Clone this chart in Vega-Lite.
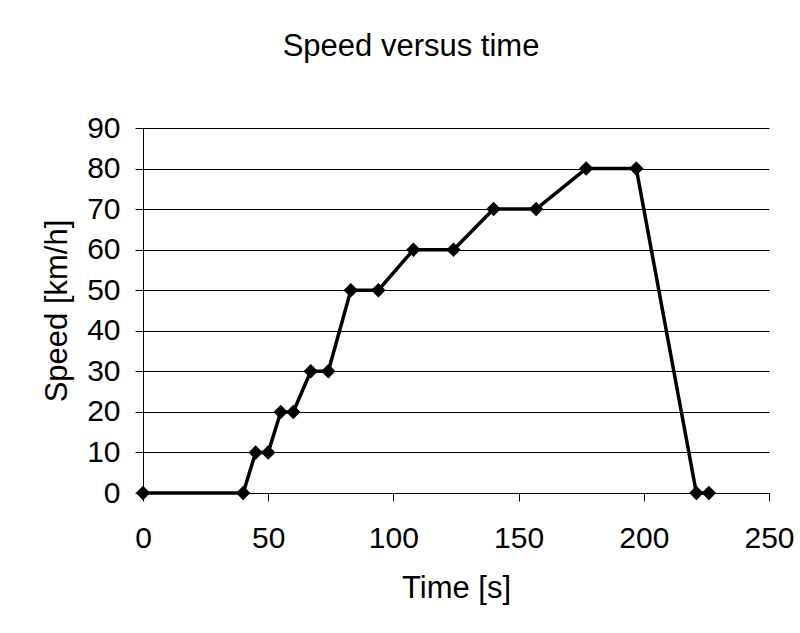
{
  "$schema": "https://vega.github.io/schema/vega-lite/v6.json",
  "autosize": "none",
  "width": 626,
  "height": 365,
  "padding": {"left": 143, "top": 128, "right": 31, "bottom": 140},
  "background": "white",
  "title": {
    "text": "Speed versus time",
    "font": "Liberation Sans",
    "fontSize": 31,
    "fontWeight": "normal",
    "color": "black",
    "anchor": "middle",
    "dx": -45,
    "offset": 50
  },
  "config": {
    "view": {"stroke": null},
    "axis": {
      "labelFont": "Liberation Sans",
      "titleFont": "Liberation Sans",
      "labelFontSize": 30,
      "titleFontSize": 31,
      "titleFontWeight": "normal",
      "labelColor": "black",
      "titleColor": "black",
      "domainColor": "black",
      "tickColor": "black",
      "gridColor": "black",
      "gridOpacity": 1,
      "tickSize": 8,
      "labelFlush": false,
      "labelOverlap": false
    }
  },
  "data": {
    "values": [
      {"time": 0, "speed": 0},
      {"time": 40, "speed": 0},
      {"time": 45, "speed": 10},
      {"time": 50, "speed": 10},
      {"time": 55, "speed": 20},
      {"time": 60, "speed": 20},
      {"time": 67, "speed": 30},
      {"time": 74, "speed": 30},
      {"time": 83, "speed": 50},
      {"time": 94, "speed": 50},
      {"time": 108, "speed": 60},
      {"time": 124, "speed": 60},
      {"time": 140, "speed": 70},
      {"time": 157, "speed": 70},
      {"time": 177, "speed": 80},
      {"time": 197, "speed": 80},
      {"time": 221, "speed": 0},
      {"time": 226, "speed": 0}
    ]
  },
  "encoding": {
    "x": {
      "field": "time",
      "type": "quantitative",
      "title": "Time [s]",
      "scale": {"domain": [0, 250], "nice": false, "zero": true},
      "axis": {
        "values": [0, 50, 100, 150, 200, 250],
        "grid": false,
        "domain": false,
        "labelPadding": 22,
        "titlePadding": 20
      }
    },
    "y": {
      "field": "speed",
      "type": "quantitative",
      "title": "Speed [km/h]",
      "scale": {"domain": [0, 90], "nice": false},
      "axis": {
        "values": [0, 10, 20, 30, 40, 50, 60, 70, 80, 90],
        "grid": true,
        "domain": true,
        "labelPadding": 15,
        "titlePadding": 13
      }
    }
  },
  "layer": [
    {"mark": {"type": "line", "color": "black", "strokeWidth": 3.5}},
    {"mark": {"type": "point", "shape": "diamond", "filled": true, "color": "black", "opacity": 1, "size": 210}}
  ]
}
